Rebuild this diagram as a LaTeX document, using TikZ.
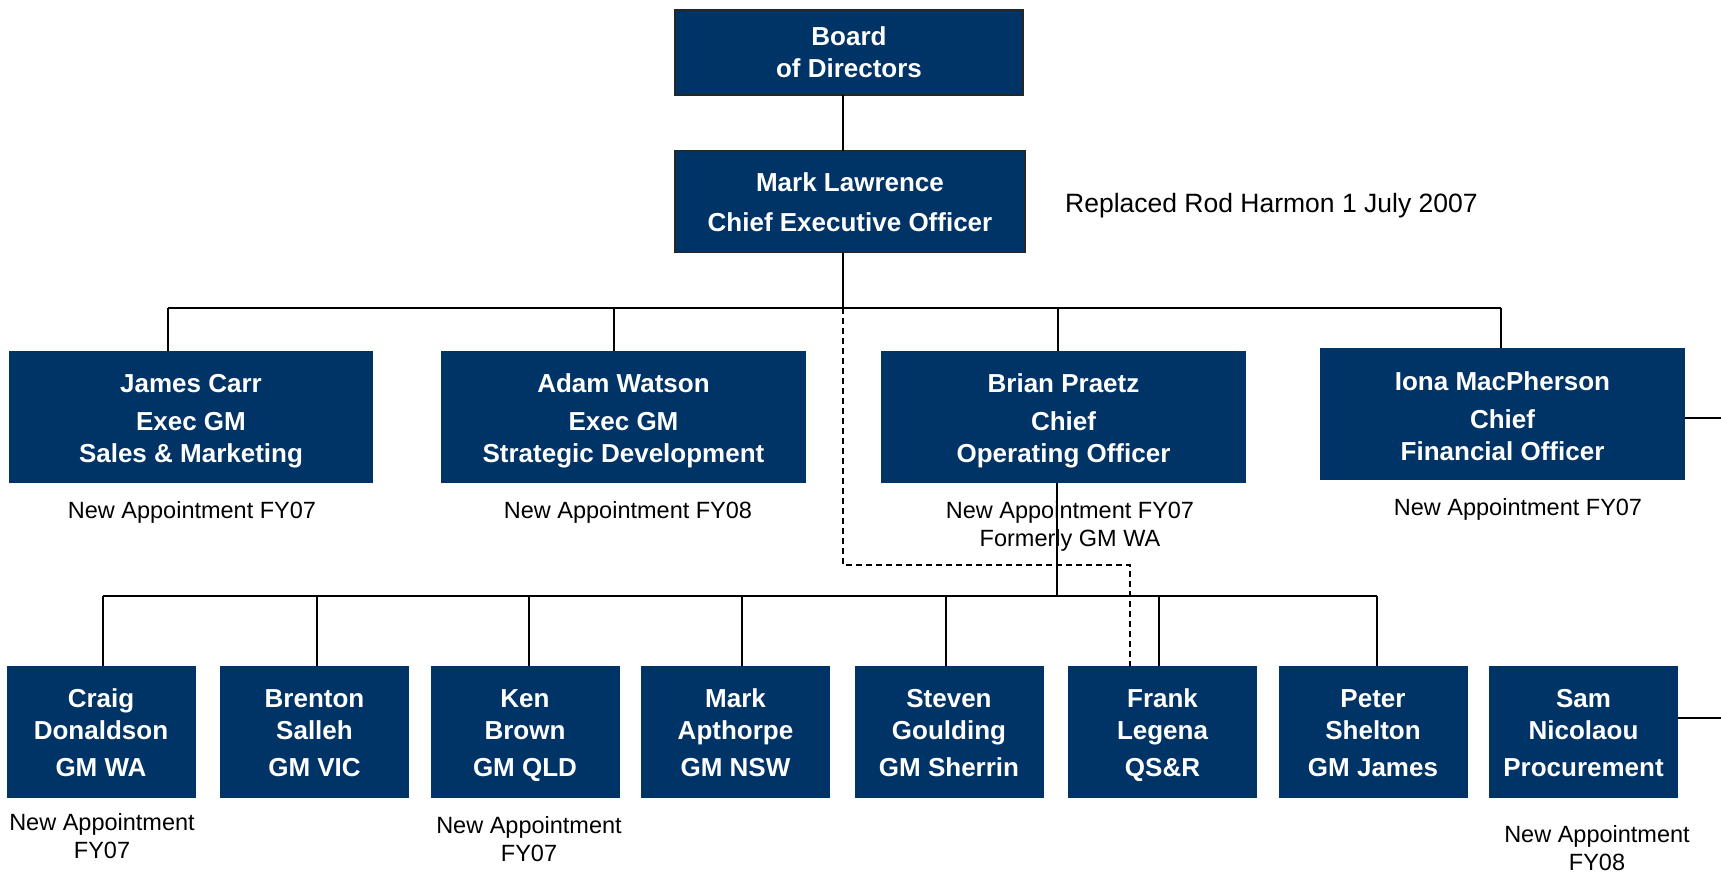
\documentclass[tikz,border=0pt]{standalone}
\usepackage{fontspec}
\setmainfont{Liberation Sans}
\definecolor{navy}{RGB}{0,51,102}
\newcommand{\hstrut}[1]{\rule{0pt}{#1pt}}
\begin{document}
\begin{tikzpicture}[x=1pt,y=-1pt,
  box/.style={fill=navy,text=white,font=\bfseries\fontsize{26}{32}\selectfont,align=center,inner sep=0pt,outer sep=0pt,minimum height=132pt,
    execute at end node={\rule[-5.5pt]{0pt}{0pt}}},
  topbox/.style={box,draw=black!85,line width=1.5pt},
  lowbox/.style={box,minimum width=189pt},
  note/.style={font=\fontsize{23.5}{28}\selectfont,align=center,inner sep=0pt},
  conn/.style={line width=1.6pt,black},
  dsh/.style={line width=1.6pt,black,dash pattern=on 6pt off 4pt}]
\useasboundingbox (0,0) rectangle (1721,875);
% top
\node[topbox,minimum width=348pt,minimum height=85pt] (board) at (849,52.5) {\hstrut{23.5}Board\\of Directors};
\node[topbox,minimum width=350pt,minimum height=102pt] (ceo) at (850,201.5) {\hstrut{25.5}Mark Lawrence\\[8pt]Chief Executive Officer};
\node[note,anchor=west,font=\fontsize{26.5}{30}\selectfont] (repl) at (1065,205.5) {Replaced Rod Harmon 1 July 2007};
% row 2
\node[box,minimum width=364pt] (james) at (191,417) {\hstrut{27}James Carr\\[6pt]Exec GM\\Sales \& Marketing};
\node[box,minimum width=365pt] (adam) at (623.5,417) {\hstrut{27}Adam Watson\\[6pt]Exec GM\\Strategic Development};
\node[box,minimum width=365pt] (brian) at (1063.5,417) {\hstrut{27}Brian Praetz\\[6pt]Chief\\Operating Officer};
\node[box,minimum width=365pt] (iona) at (1502.5,414) {\hstrut{29}Iona MacPherson\\[6pt]Chief\\Financial Officer};
% row 3
\node[lowbox] (craig) at (101,732) {\hstrut{25.5}Craig\\Donaldson\\[5pt]GM WA};
\node[lowbox] (brenton) at (314.5,732) {\hstrut{25.5}Brenton\\Salleh\\[5pt]GM VIC};
\node[lowbox] (ken) at (525,732) {\hstrut{25.5}Ken\\Brown\\[5pt]GM QLD};
\node[lowbox] (mark) at (735.5,732) {\hstrut{25.5}Mark\\Apthorpe\\[5pt]GM NSW};
\node[lowbox] (steven) at (949,732) {\hstrut{25.5}Steven\\Goulding\\[5pt]GM Sherrin};
\node[lowbox] (frank) at (1162.5,732) {\hstrut{25.5}Frank\\Legena\\[5pt]QS\&R};
\node[lowbox] (peter) at (1373,732) {\hstrut{25.5}Peter\\Shelton\\[5pt]GM James};
\node[lowbox] (sam) at (1583.5,732) {\hstrut{25.5}Sam\\Nicolaou\\[5pt]Procurement};
% notes
\node[note] (nJ) at (192,512) {New Appointment FY07};
\node[note] (nA) at (628,512) {New Appointment FY08};
\node[note] (nB) at (1070,526) {New Appointment FY07\\Formerly GM WA};
\node[note] (nI) at (1518,509) {New Appointment FY07};
\node[note] (nC) at (102,836.5) {New Appointment\\FY07};
\node[note] (nK) at (529,839) {New Appointment\\FY07};
\node[note] (nS) at (1597,848) {New Appointment\\FY08};
% coordinates
\coordinate (bus1) at (843,308);
\coordinate (dJ) at (168,308);
\coordinate (dA) at (614,308);
\coordinate (dB) at (1058,308);
\coordinate (dI) at (1501,308);
\coordinate (bus2) at (1057,596);
\coordinate (eC) at (103,596);
\coordinate (eBr) at (317,596);
\coordinate (eK) at (529,596);
\coordinate (eM) at (742,596);
\coordinate (eS) at (946,596);
\coordinate (eF) at (1159,596);
\coordinate (eP) at (1377,596);
\coordinate (edgeI) at (1721,418);
\coordinate (edgeS) at (1721,718);
\coordinate (dd) at (1130,565);
% connectors
\draw[conn] (board.south -| bus1) -- (ceo.north -| bus1);
\draw[conn] (ceo.south -| bus1) -- (bus1);
\draw[conn] (dJ) -- (dI);
\foreach \c/\n in {dJ/james,dA/adam,dB/brian,dI/iona} \draw[conn] (\c) -- (\c |- \n.north);
\draw[conn] (brian.south -| bus2) -- (bus2);
\draw[conn] (eC) -- (eP);
\foreach \c/\n in {eC/craig,eBr/brenton,eK/ken,eM/mark,eS/steven,eF/frank,eP/peter} \draw[conn] (\c) -- (\c |- \n.north);
\draw[conn] (iona.east |- edgeI) -- (edgeI);
\draw[conn] (sam.east |- edgeS) -- (edgeS);
\draw[dsh] (bus1) |- (dd) -- (dd |- frank.north);
\end{tikzpicture}
\end{document}
